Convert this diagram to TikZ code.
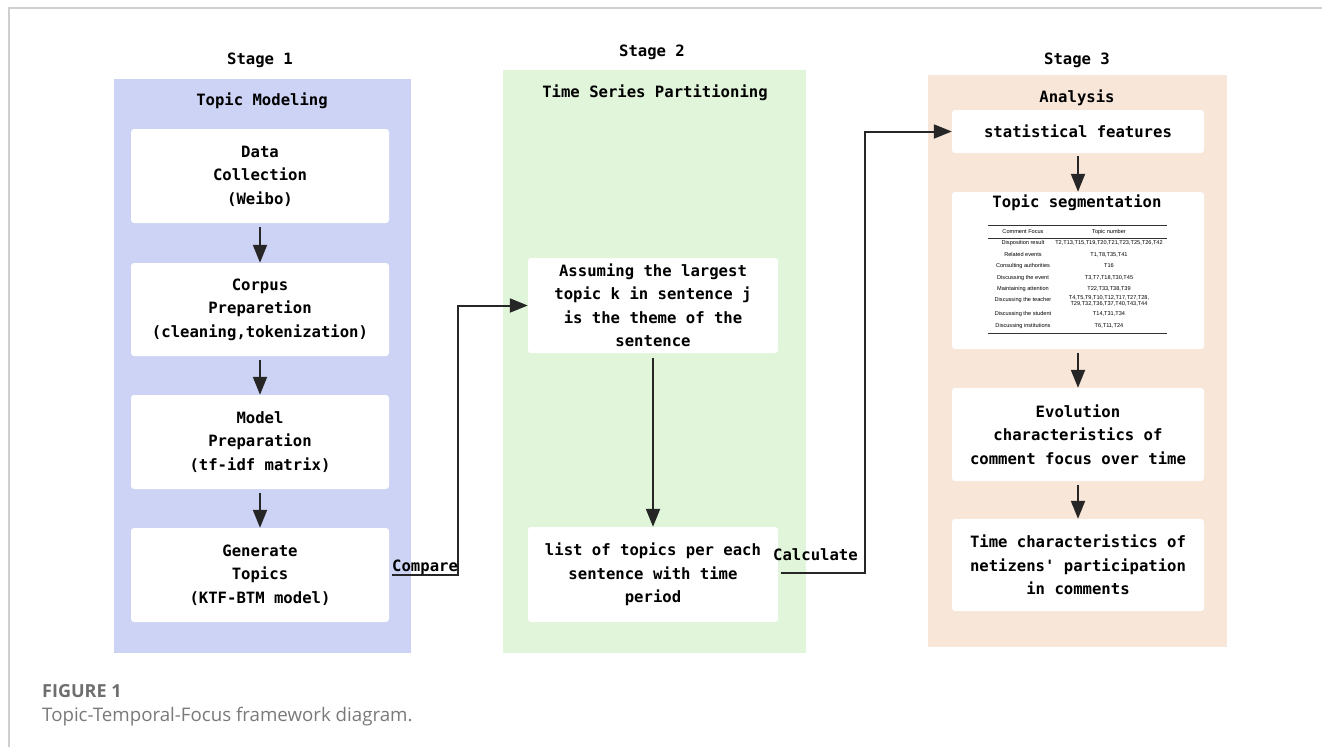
\documentclass[tikz,border=0pt]{standalone}
\usepackage{fontspec}
\usetikzlibrary{arrows.meta}
\newfontfamily\diagfont{DejaVu Sans Mono}
\newfontfamily\tabfont{Liberation Sans}
\newfontfamily\capfont{Open Sans}
\definecolor{panelblue}{HTML}{CDD3F4}
\definecolor{panelgreen}{HTML}{E0F5D9}
\definecolor{panelpeach}{HTML}{F8E6D9}
\definecolor{arrowgray}{HTML}{262626}
\definecolor{framegray}{HTML}{CFCFCF}
\definecolor{capgray}{HTML}{6E6E6E}
\definecolor{capgraylight}{HTML}{7A7A7A}
\tikzset{
  diagtext/.style={font=\diagfont\bfseries\fontsize{15.6}{23.5}\selectfont},
  box/.style={diagtext, fill=white, rounded corners=3pt, align=center, inner sep=0pt},
  heading/.style={diagtext, inner sep=0pt},
  flow/.style={draw=arrowgray, line width=2pt, -{Triangle[length=18pt,width=14pt]}},
  edgelabel/.style={diagtext, inner sep=0pt, anchor=base west},
  tabcell/.style={font=\tabfont\fontsize{5.6}{6}\selectfont, inner sep=0pt, align=center},
  tabrule/.style={line width=0.8pt, draw=black!80},
}
\begin{document}
\begin{tikzpicture}[x=1pt,y=-1pt]
  \useasboundingbox (0,0) rectangle (1322,747);
  \fill[white] (0,0) rectangle (1322,747);
  % frame lines of the figure area
  \draw[framegray, line width=1.2pt] (9,747) -- (9,8) -- (1322,8);

  % stage panels
  \fill[panelblue]  (114,79) rectangle (411,653);
  \fill[panelgreen] (503,70) rectangle (806,653);
  \fill[panelpeach] (928,75) rectangle (1227,647);

  % stage headings
  \node[heading] (s1) at (260,60) {Stage 1};
  \node[heading] (s2) at (652,52) {Stage 2};
  \node[heading] (s3) at (1077,60) {Stage 3};
  \node[heading] (t1) at (262,101) {Topic Modeling};
  \node[heading] (t2) at (655,93) {Time Series Partitioning};
  \node[heading] (t3) at (1077,98) {Analysis};

  % stage 1 boxes
  \node[box, minimum width=258pt, minimum height=94pt] (dc) at (260,176)
    {Data\\Collection\\(Weibo)};
  \node[box, minimum width=258pt, minimum height=93pt] (cp) at (260,309.5)
    {Corpus\\Preparetion\\(cleaning,tokenization)};
  \node[box, minimum width=258pt, minimum height=94pt] (mp) at (260,442)
    {Model\\Preparation\\(tf-idf matrix)};
  \node[box, minimum width=258pt, minimum height=94pt] (gt) at (260,575)
    {Generate\\Topics\\(KTF-BTM model)};

  % stage 2 boxes
  \node[box, minimum width=250pt, minimum height=95pt] (as) at (653,305.5)
    {Assuming the largest\\topic k in sentence j\\is the theme of the\\sentence};
  \node[box, minimum width=250pt, minimum height=95pt] (lt) at (653,574.5)
    {list of topics per each\\sentence with time\\period};

  % stage 3 boxes
  \node[box, minimum width=252pt, minimum height=43pt] (sf) at (1078,131.5)
    {statistical features};
  \node[box, minimum width=252pt, minimum height=157pt] (ts) at (1078,270.5) {};
  \node[box, minimum width=252pt, minimum height=93pt] (ev) at (1078,434.5)
    {Evolution\\characteristics of\\comment focus over time};
  \node[box, minimum width=252pt, minimum height=92pt] (tc) at (1078,565)
    {Time characteristics of\\netizens' participation\\in comments};

  % topic segmentation box content
  \node[heading] (tstitle) at (1077,203) {Topic segmentation};
  \draw[tabrule] (988,225) -- (1167,225);
  \draw[line width=0.5pt, draw=black!80] (988,238) -- (1167,238);
  \draw[tabrule] (988,333) -- (1167,333);
  \node[tabcell] (hfocus) at (1023,232) {Comment Focus};
  \node[tabcell] (hnum) at (1109,232) {Topic number};
  \foreach \i/\y/\a/\b in {
      1/243.3/{Disposition result}/{T2,T13,T15,T19,T20,T21,T23,T25,T26,T42},
      2/254.5/{Related events}/{T1,T8,T35,T41},
      3/266/{Consulting authorities}/{T16},
      4/277.7/{Discussing the event}/{T3,T7,T18,T30,T45},
      5/289/{Maintaining attention}/{T22,T33,T38,T39},
      6/300.4/{Discussing the teacher}/{T4,T5,T9,T10,T12,T17,T27,T28,\\T29,T32,T36,T37,T40,T43,T44},
      7/314.3/{Discussing the student}/{T14,T31,T34},
      8/326/{Discussing institutions}/{T6,T11,T24}} {
    \node[tabcell] (focus\i) at (1023,\y) {\a};
    \node[tabcell] (num\i) at (1109,\y) {\b};
  }

  % flow inside the stages
  \draw[flow, shorten <=4pt] (dc) -- (cp);
  \draw[flow, shorten <=4pt] (cp) -- (mp);
  \draw[flow, shorten <=4pt] (mp) -- (gt);
  \draw[flow, shorten <=5pt] (as) -- (lt);
  \draw[flow, shorten <=3pt] (sf) -- (ts);
  \draw[flow, shorten <=4pt] (ts) -- (ev);
  \draw[flow, shorten <=4pt] (ev) -- (tc);

  % flow between the stages
  \coordinate (cmpturn) at (458,575);
  \coordinate (calcturn) at (865,573);
  \draw[flow, shorten <=3pt] (gt.east) -- (cmpturn) |- (as.west);
  \draw[flow, shorten <=3pt] (lt.east |- calcturn) -- (calcturn) |- (sf.west);
  \node[edgelabel] (cmp) at (392,571) {Compare};
  \node[edgelabel] (calc) at (773,560) {Calculate};

  % caption
  \node[anchor=base west, inner sep=0pt, text=capgray,
        font=\capfont\bfseries\fontsize{18}{22}\selectfont] (fig) at (42,697) {FIGURE 1};
  \node[anchor=base west, inner sep=0pt, text=capgraylight,
        font=\capfont\fontsize{18.7}{22}\selectfont] (cap) at (42,721)
        {Topic-Temporal-Focus framework diagram.};
\end{tikzpicture}
\end{document}
